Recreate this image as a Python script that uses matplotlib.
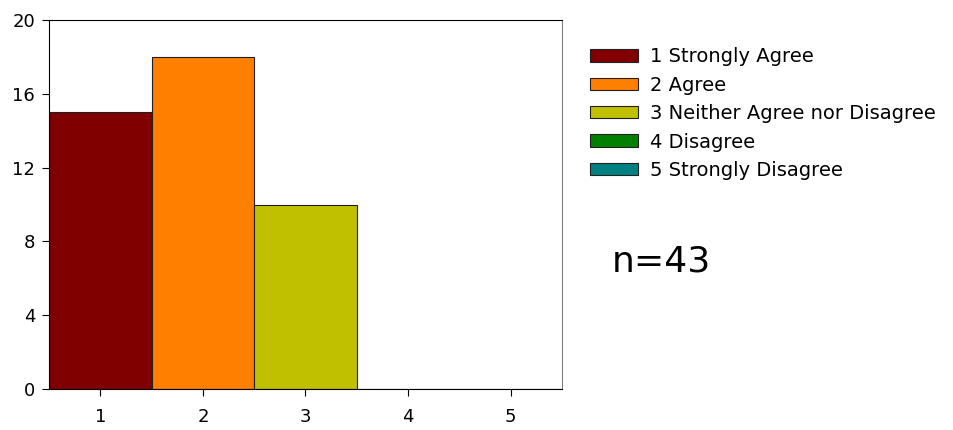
import numpy as np
import matplotlib
matplotlib.use("Agg")
from matplotlib import pyplot as plt
from matplotlib.patches import Patch

# dane
kategorie = [1, 2, 3, 4, 5]
wartosci = [15, 18, 10, 0, 0]
etykiety = ["1 Strongly Agree", "2 Agree", "3 Neither Agree nor Disagree",
            "4 Disagree", "5 Strongly Disagree"]
kolory = ["#800000", "#FF8000", "#C0C000", "#008000", "#008080"]
y_ticks = [0, 4, 8, 12, 16, 20]

plt.rcParams['font.family'] = ['DejaVu Sans']

fig = plt.figure(figsize=(9.54, 4.30), dpi=100)
ax = fig.add_axes([49 / 954, 1 - 389 / 430, (562 - 49) / 954, (389 - 20) / 430])

ax.bar(kategorie, wartosci, width=1.0, color=kolory, edgecolor="#202020", linewidth=0.8, zorder=2)

ax.set_xlim(0.5, 5.5)
ax.set_ylim(0, 20)
ax.set_xticks(kategorie)
ax.set_yticks(y_ticks)
ax.tick_params(axis="both", labelsize=13, length=5, color="black", direction="out")
ax.tick_params(axis="x", pad=9)
ax.tick_params(axis="y", pad=5)

ax.spines["right"].set_color("#808080")

# LEGENDA
uchwyty = [Patch(facecolor=c, edgecolor="#202020", linewidth=0.8) for c in kolory]
fig.legend(uchwyty, etykiety, loc="upper left", bbox_to_anchor=(572 / 954, 1 - 30 / 430),
           frameon=False, fontsize=14, handlelength=2.5, handleheight=0.6,
           labelspacing=0.48, handletextpad=0.6)

fig.text(612 / 954, 1 - 262 / 430, "n=43", fontsize=26, va="center", ha="left")

fig.savefig("out.png", dpi=100)
